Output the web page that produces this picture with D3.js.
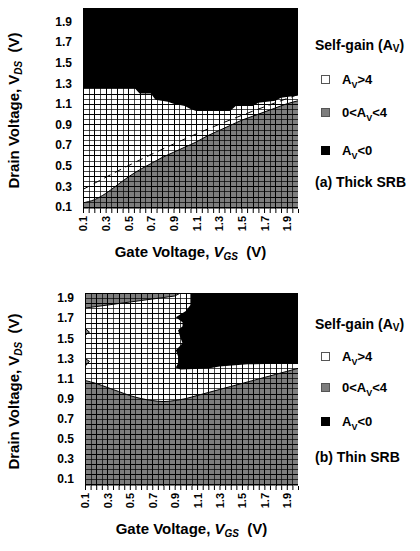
<!DOCTYPE html>
<html>
<head>
<meta charset="utf-8">
<script src="https://cdn.jsdelivr.net/npm/d3@7/dist/d3.min.js"></script>
<style>
  body { margin: 0; background: #fff; }
  svg text { font-family: "Liberation Sans", Arial, sans-serif; font-weight: bold; fill: #000; }
</style>
</head>
<body>
<script>
// gate voltage sample points used for the smooth boundaries
const vgsPts = [0.1, 0.2, 0.3, 0.4, 0.5, 0.6, 0.7, 0.8, 0.9, 1.0, 1.1, 1.2, 1.3, 1.4, 1.5, 1.6, 1.7, 1.8, 1.9, 2.0];

// (a) thick SRB: Vds where 0<Av<4 turns into Av>4
const thickLow = [0.14, 0.17, 0.23, 0.31, 0.39, 0.46, 0.52, 0.58, 0.63, 0.68, 0.73, 0.79, 0.84, 0.89, 0.94, 0.98, 1.02, 1.06, 1.10, 1.13];
// (a) lower edge of the Av<0 region, [Vgs, Vds]
const thickNeg = [[0.1, 1.25], [0.56, 1.25], [0.6, 1.2], [0.7, 1.2], [0.74, 1.14], [0.85, 1.12], [0.9, 1.1], [1.0, 1.08],
  [1.05, 1.05], [1.1, 1.03], [1.4, 1.03], [1.45, 1.08], [1.6, 1.08], [1.65, 1.11], [1.8, 1.13], [1.85, 1.16], [2.0, 1.18]];
// (a) dashed reference line
const thickDash = [[0.1, 0.27], [0.5, 0.5], [0.9, 0.71], [1.3, 0.9], [1.7, 1.07], [2.0, 1.19]];

// (b) thin SRB: Vds where 0<Av<4 turns into Av>4
const thinLow = [1.08, 1.05, 1.01, 0.97, 0.93, 0.90, 0.88, 0.87, 0.88, 0.90, 0.93, 0.96, 0.99, 1.02, 1.05, 1.08, 1.11, 1.14, 1.17, 1.20];
// (b) upper band of 0<Av<4, [Vgs, Vds]
const thinTop = [[0.1, 1.8], [0.5, 1.86], [0.9, 1.92], [0.97, 1.96]];
// (b) outline of the Av<0 region, [Vgs, Vds]
const thinNeg = [[1.04, 1.96], [2.0, 1.96], [2.0, 1.25], [1.55, 1.24], [1.3, 1.22], [1.2, 1.2], [0.95, 1.19], [0.91, 1.21],
  [0.93, 1.25], [0.93, 1.32], [0.91, 1.38], [0.97, 1.45], [0.95, 1.51], [0.93, 1.58], [0.97, 1.62], [0.97, 1.66],
  [0.91, 1.71], [1.0, 1.77], [1.04, 1.83]];
// (b) little 0<Av<4 notches on the left edge
const thinNotches = [[[0.1, 1.53], [0.14, 1.56], [0.1, 1.6]], [[0.1, 1.22], [0.14, 1.27], [0.1, 1.3]]];

const xLabels = [0.1, 0.3, 0.5, 0.7, 0.9, 1.1, 1.3, 1.5, 1.7, 1.9];
const yLabels = [0.1, 0.3, 0.5, 0.7, 0.9, 1.1, 1.3, 1.5, 1.7, 1.9];

const GRAY = '#7d7d7d';

const svg = d3.select('body').append('svg').attr('width', 420).attr('height', 551);

const panels = [
  { id: 'a', top: 8, bottom: 209, left: 83, right: 298, yDom: [0.08, 2.03], caption: '(a) Thick SRB',
    leg: { title: 50, items: [84, 117, 155], cap: 187 } },
  { id: 'b', top: 293, bottom: 486, left: 85, right: 298, yDom: [0.03, 1.95], caption: '(b) Thin SRB',
    leg: { title: 329, items: [361, 392, 426], cap: 462 } }
];

function drawPanel(p, drawRegions) {
  const x = d3.scaleLinear().domain([0.1, 2.0]).range([p.left, p.right]);
  const y = d3.scaleLinear().domain(p.yDom).range([p.bottom, p.top]);
  const g = svg.append('g');

  g.append('clipPath').attr('id', 'clip-' + p.id)
    .append('rect').attr('x', p.left).attr('y', p.top)
    .attr('width', p.right - p.left).attr('height', p.bottom - p.top);

  const plot = g.append('g').attr('clip-path', 'url(#clip-' + p.id + ')');
  plot.append('rect').attr('x', p.left).attr('y', p.top)
    .attr('width', p.right - p.left).attr('height', p.bottom - p.top).attr('fill', '#fff');

  drawRegions(plot, x, y);

  // cell grid, one line per 0.05 V
  const gx = d3.range(0, 39).map(i => +(0.1 + i * 0.05).toFixed(2));
  const gy = d3.range(0, 41).map(i => +(i * 0.05).toFixed(2)).filter(v => v >= p.yDom[0] && v <= p.yDom[1]);
  plot.append('g').selectAll('line').data(gx).join('line')
    .attr('x1', d => Math.round(x(d)) + 0.5).attr('x2', d => Math.round(x(d)) + 0.5)
    .attr('y1', p.top).attr('y2', p.bottom)
    .attr('stroke', '#000').attr('stroke-width', 1).attr('stroke-opacity', (d, i) => i % 2 ? 0.7 : 1);
  plot.append('g').selectAll('line').data(gy).join('line')
    .attr('y1', d => Math.round(y(d)) + 0.5).attr('y2', d => Math.round(y(d)) + 0.5)
    .attr('x1', p.left).attr('x2', p.right)
    .attr('stroke', '#000').attr('stroke-width', 1).attr('stroke-opacity', (d, i) => i % 2 ? 0.7 : 1);

  // x ticks every 0.05 V
  g.append('g').attr('transform', 'translate(0,' + p.bottom + ')')
    .call(d3.axisBottom(x).tickValues(gx).tickSize(4).tickFormat(''))
    .call(a => a.select('.domain').remove())
    .call(a => a.selectAll('line').attr('stroke', '#000'));

  g.append('g').attr('transform', 'translate(0,' + p.bottom + ')')
    .call(d3.axisBottom(x).tickValues(xLabels).tickSize(0).tickFormat(d3.format('.1f')))
    .call(a => a.select('.domain').remove())
    .call(a => a.selectAll('text')
      .attr('transform', 'rotate(-90)').attr('x', -7).attr('y', 0).attr('dy', '0.36em')
      .style('text-anchor', 'end').style('font-size', '11px').style('font-family', null));

  g.append('g').attr('transform', 'translate(' + p.left + ',0)')
    .call(d3.axisLeft(y).tickValues(yLabels).tickSize(0).tickPadding(11).tickFormat(d3.format('.1f')))
    .call(a => a.select('.domain').remove())
    .call(a => a.selectAll('text').style('font-size', '12px').style('font-family', null));

  // axis titles
  const xt = g.append('text').attr('x', (p.left + p.right) / 2 + 0).attr('y', p.bottom + 48)
    .attr('text-anchor', 'middle').style('font-size', '15px');
  xt.append('tspan').text('Gate Voltage, ');
  xt.append('tspan').style('font-style', 'italic').text('V');
  xt.append('tspan').style('font-style', 'italic').style('font-size', '10px').attr('dy', 3).text('GS');
  xt.append('tspan').attr('dy', -3).text('\u00a0 (V)');

  const yt = g.append('text')
    .attr('transform', 'translate(19,' + ((p.top + p.bottom) / 2 + 2) + ') rotate(-90)')
    .attr('text-anchor', 'middle').style('font-size', '15px');
  yt.append('tspan').text('Drain Voltage, ');
  yt.append('tspan').text('V');
  yt.append('tspan').style('font-style', 'italic').style('font-size', '10px').attr('dy', 3).text('DS');
  yt.append('tspan').attr('dy', -3).text('\u00a0 (V)');

  // legend
  const lx = 315;
  const t = g.append('text').attr('x', lx).attr('y', p.leg.title).style('font-size', '14px');
  t.append('tspan').text('Self-gain (A');
  t.append('tspan').style('font-size', '10px').attr('dy', 2).text('V');
  t.append('tspan').attr('dy', -2).text(')');

  const items = [
    { fill: '#fff', pre: '', post: '>4' },
    { fill: GRAY, pre: '0<', post: '<4' },
    { fill: '#000', pre: '', post: '<0' }
  ];
  items.forEach((it, i) => {
    const by = p.leg.items[i];
    g.append('rect').attr('x', 321.5).attr('y', by - 8.5).attr('width', 8).attr('height', 8)
      .attr('fill', it.fill).attr('stroke', i === 2 ? '#000' : '#555');
    const tx = g.append('text').attr('x', 342).attr('y', by).style('font-size', '13px');
    tx.append('tspan').text(it.pre + 'A');
    tx.append('tspan').style('font-size', '9px').attr('dy', 4).text('V');
    tx.append('tspan').attr('dy', -4).text(it.post);
  });

  g.append('text').attr('x', lx).attr('y', p.leg.cap).style('font-size', '14px').text(p.caption);
}

const pt = (x, y) => d3.line().x(d => x(d[0])).y(d => y(d[1]));

drawPanel(panels[0], (plot, x, y) => {
  const y0 = panels[0].yDom[0], y1 = panels[0].yDom[1];
  const lowData = vgsPts.map((v, i) => [v, thickLow[i]]);
  plot.append('path').datum(lowData)
    .attr('d', d3.area().x(d => x(d[0])).y0(y(y0)).y1(d => y(d[1])).curve(d3.curveMonotoneX))
    .attr('fill', GRAY);
  plot.append('path').datum(lowData)
    .attr('d', d3.line().x(d => x(d[0])).y(d => y(d[1])).curve(d3.curveMonotoneX))
    .attr('fill', 'none').attr('stroke', '#000').attr('stroke-width', 1);
  plot.append('path').datum(thickNeg)
    .attr('d', d3.area().x(d => x(d[0])).y0(y(y1)).y1(d => y(d[1])))
    .attr('fill', '#000');
  plot.append('path').datum(thickDash)
    .attr('d', pt(x, y).curve(d3.curveMonotoneX))
    .attr('fill', 'none').attr('stroke', '#000').attr('stroke-width', 1).attr('stroke-dasharray', '7,5');
});

drawPanel(panels[1], (plot, x, y) => {
  const y0 = panels[1].yDom[0], y1 = panels[1].yDom[1];
  const lowData = vgsPts.map((v, i) => [v, thinLow[i]]);
  plot.append('path').datum(lowData)
    .attr('d', d3.area().x(d => x(d[0])).y0(y(y0)).y1(d => y(d[1])).curve(d3.curveMonotoneX))
    .attr('fill', GRAY);
  plot.append('path').datum(lowData)
    .attr('d', d3.line().x(d => x(d[0])).y(d => y(d[1])).curve(d3.curveMonotoneX))
    .attr('fill', 'none').attr('stroke', '#000');
  plot.append('path').datum(thinTop)
    .attr('d', d3.area().x(d => x(d[0])).y0(y(y1)).y1(d => y(d[1])))
    .attr('fill', GRAY);
  plot.append('path').datum(thinTop)
    .attr('d', pt(x, y)).attr('fill', 'none').attr('stroke', '#000');
  thinNotches.forEach(n => {
    plot.append('path').datum(n).attr('d', pt(x, y)).attr('fill', GRAY).attr('stroke', '#000');
  });
  plot.append('path').datum(thinNeg)
    .attr('d', pt(x, y).curve(d3.curveLinearClosed))
    .attr('fill', '#000');
});
</script>
</body>
</html>
